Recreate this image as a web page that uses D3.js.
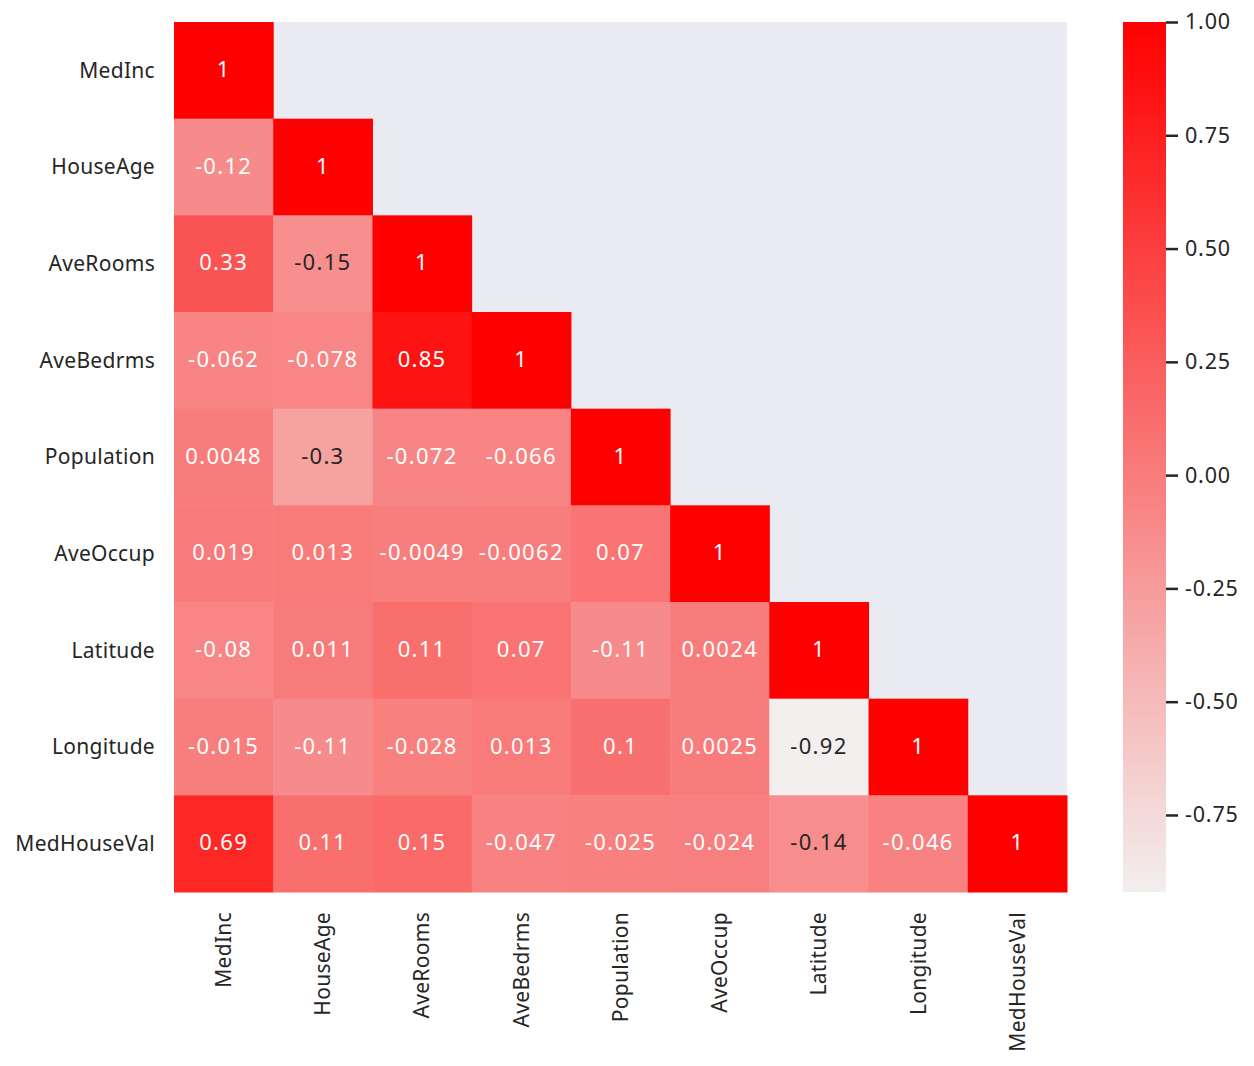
<!DOCTYPE html>
<html><head><meta charset="utf-8">
<script src="https://cdn.jsdelivr.net/npm/d3@7"></script>
<style>body{margin:0;background:#fff;} text{font-family:"Noto Sans","Open Sans",sans-serif;}</style>
</head><body>
<svg id="c" width="1254" height="1066"></svg>
<script>
const labels = ["MedInc","HouseAge","AveRooms","AveBedrms","Population","AveOccup","Latitude","Longitude","MedHouseVal"];
const rowValues = [
  [1],
  [-0.12, 1],
  [0.33, -0.15, 1],
  [-0.062, -0.078, 0.85, 1],
  [0.0048, -0.3, -0.072, -0.066, 1],
  [0.019, 0.013, -0.0049, -0.0062, 0.07, 1],
  [-0.08, 0.011, 0.11, 0.07, -0.11, 0.0024, 1],
  [-0.015, -0.11, -0.028, 0.013, 0.1, 0.0025, -0.92, 1],
  [0.69, 0.11, 0.15, -0.047, -0.025, -0.024, -0.14, -0.046, 1]
];
const colorbarTicks = [1.00, 0.75, 0.50, 0.25, 0.00, -0.25, -0.50, -0.75];
const vmin = -0.92, vmax = 1.0;

const svg = d3.select("#c");
const L = 174, R = 1067, T = 22, B = 892;
const x = d3.scaleBand().domain(labels).range([L, R]);
const y = d3.scaleBand().domain(labels).range([T, B]);
const color = d3.scaleLinear().domain([vmin, vmax]).range(["#f2efee", "#ff0000"]).interpolate(d3.interpolateRgb);

svg.append("rect").attr("x", L).attr("y", T).attr("width", R - L).attr("height", B - T).attr("fill", "#eaeaf2");

const cells = [];
rowValues.forEach((row, i) => row.forEach((v, j) => cells.push({r: labels[i], c: labels[j], v})));

function lum(c) {
  const rgb = d3.rgb(c);
  const f = u => { u /= 255; return u <= 0.03928 ? u / 12.92 : Math.pow((u + 0.055) / 1.055, 2.4); };
  return 0.2126 * f(rgb.r) + 0.7152 * f(rgb.g) + 0.0722 * f(rgb.b);
}

svg.append("g").selectAll("rect").data(cells).join("rect")
  .attr("x", d => x(d.c)).attr("y", d => y(d.r))
  .attr("width", x.bandwidth() + 0.5).attr("height", y.bandwidth() + 0.5)
  .attr("fill", d => color(d.v));

svg.append("g").selectAll("text").data(cells).join("text")
  .attr("x", d => x(d.c) + x.bandwidth() / 2)
  .attr("y", d => y(d.r) + y.bandwidth() / 2)
  .attr("dy", "0.3em").attr("text-anchor", "middle")
  .attr("font-size", 22).attr("letter-spacing", "1.3px")
  .attr("fill", d => lum(color(d.v)) > 0.408 ? "#262626" : "#ffffff")
  .text(d => String(d.v));

// Y axis labels
svg.append("g").selectAll("text").data(labels).join("text")
  .attr("x", 155).attr("y", d => y(d) + y.bandwidth() / 2)
  .attr("dy", "0.35em").attr("text-anchor", "end").attr("font-size", 21).attr("letter-spacing", "0.3px").attr("fill", "#262626")
  .text(d => d);

// X axis labels
svg.append("g").selectAll("text").data(labels).join("text")
  .attr("transform", d => `translate(${x(d) + x.bandwidth() / 2},912) rotate(-90)`)
  .attr("dy", "0.35em").attr("text-anchor", "end").attr("font-size", 21).attr("letter-spacing", "0.3px").attr("fill", "#262626")
  .text(d => d);

// Colorbar
const cbX = 1123, cbW = 43;
const cy = d3.scaleLinear().domain([vmin, vmax]).range([B, T]);
const defs = svg.append("defs");
const grad = defs.append("linearGradient").attr("id", "cbg").attr("x1", 0).attr("y1", 1).attr("x2", 0).attr("y2", 0);
grad.append("stop").attr("offset", 0).attr("stop-color", color(vmin));
grad.append("stop").attr("offset", 1).attr("stop-color", color(vmax));
svg.append("rect").attr("x", cbX).attr("y", T).attr("width", cbW).attr("height", B - T).attr("fill", "url(#cbg)");

const cbAxis = d3.axisRight(cy).tickValues(colorbarTicks).tickSize(12).tickPadding(7)
  .tickFormat(d => d.toFixed(2));
const ag = svg.append("g").attr("transform", `translate(${cbX + cbW},0)`).call(cbAxis);
ag.select(".domain").remove();
ag.selectAll("line").attr("stroke", "#262626").attr("stroke-width", 2.5);
ag.selectAll("text").attr("font-size", 21.5).attr("letter-spacing", "0.8px").attr("fill", "#262626").attr("font-family", "Noto Sans");
</script>
</body></html>
